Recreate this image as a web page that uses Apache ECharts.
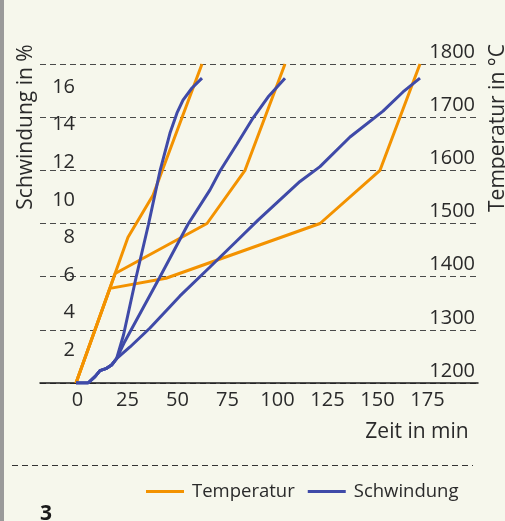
<!DOCTYPE html>
<html>
<head>
<meta charset="utf-8">
<script src="https://cdn.jsdelivr.net/npm/echarts@6/dist/echarts.min.js"></script>
<style>
html,body{margin:0;padding:0;background:#f6f7ec;}
#c{width:505px;height:521px;}
</style>
</head>
<body>
<div id="c"></div>
<script>
// ---- data (time in min) ----
const xTickLabels = [0, 25, 50, 75, 100, 125, 150, 175];
const leftTickLabels = [2, 4, 6, 8, 10, 12, 14, 16];

// Temperature profiles (°C)
const tempFastTime   = [0, 26, 38.5, 63];
const tempFastValue  = [1200, 1474, 1553, 1800];
const tempMidTime    = [0, 19.6, 65.5, 84.5, 104.5];
const tempMidValue   = [1200, 1406, 1500, 1600, 1800];
const tempSlowTime   = [0, 17, 45, 122, 152, 172];
const tempSlowValue  = [1200, 1378, 1397, 1500, 1600, 1800];

// Shrinkage curves (%)
const shrinkStartTime  = [0, 6, 9.5, 12, 15.3, 17.8, 20.3];
const shrinkStartValue = [0, 0, 0.34, 0.66, 0.78, 0.96, 1.3];
const shrinkFastTime   = [23.75, 30, 36.25, 42, 47, 50.5, 53.5, 58, 63];
const shrinkFastValue  = [2.56, 5.61, 8.46, 11.3, 13.32, 14.39, 15.08, 15.72, 16.25];
const shrinkMidTime    = [24, 41.75, 56, 67, 72, 80.5, 88.5, 96, 104.5];
const shrinkMidValue   = [2.13, 5.61, 8.46, 10.29, 11.3, 12.74, 14.12, 15.24, 16.24];
const shrinkSlowTime   = [27, 37, 52, 67, 80.35, 91.15, 112, 122, 137, 153.5, 163.5, 172];
const shrinkSlowValue  = [1.92, 2.93, 4.64, 6.18, 7.57, 8.69, 10.74, 11.53, 13.11, 14.49, 15.51, 16.25];

const ORANGE = '#f39200';
const BLUE = '#3f4aa8';
const FONT = 'Open Sans';
const TXT = '#2a2a2a';

function pairs(ts, vs) { return ts.map((t, i) => [t, vs[i]]); }
function shrink(ts, vs) { return pairs(shrinkStartTime.concat(ts), shrinkStartValue.concat(vs)); }

function tempSeries(data) {
  return { name: 'Temperatur', type: 'line', yAxisIndex: 1, data, showSymbol: false, symbol: 'none',
    lineStyle: { color: ORANGE, width: 3 }, itemStyle: { color: ORANGE }, z: 3 };
}
function shrinkSeries(data) {
  return { name: 'Schwindung', type: 'line', yAxisIndex: 0, data, showSymbol: false, symbol: 'none',
    lineStyle: { color: BLUE, width: 3 }, itemStyle: { color: BLUE }, z: 4 };
}

const chart = echarts.init(document.getElementById('c'));
chart.setOption({
  backgroundColor: '#f6f7ec',
  animation: false,
  grid: { left: 40, right: 27, top: 64, bottom: 138 },
  legend: {
    data: ['Temperatur', 'Schwindung'],
    left: 146, top: 482, padding: 0,
    icon: 'rect', itemWidth: 38, itemHeight: 3, itemGap: 13,
    textStyle: { fontFamily: FONT, fontSize: 18.5, color: TXT, padding: [0, 0, 0, 3] }
  },
  xAxis: {
    type: 'value', min: -18, max: 201,
    axisLine: { show: true, lineStyle: { color: '#1a1a1a', width: 1.5 } },
    axisTick: { show: false },
    splitLine: { show: false },
    axisLabel: { customValues: xTickLabels, fontFamily: FONT, fontSize: 20, color: TXT, margin: 7,
      padding: [0, 0, 0, 3] }
  },
  yAxis: [
    {
      type: 'value', min: 0, max: 17, position: 'left',
      axisLine: { show: false }, axisTick: { show: false }, splitLine: { show: false },
      axisLabel: { customValues: leftTickLabels, inside: true, margin: 35, align: 'right',
        verticalAlign: 'top', lineHeight: 9,
        fontFamily: FONT, fontSize: 20, color: TXT }
    },
    {
      type: 'value', min: 1200, max: 1800, interval: 100, position: 'right',
      axisLine: { show: false }, axisTick: { show: false },
      splitLine: { show: true, lineStyle: { color: '#4a4a4a', width: 1, type: [6, 4] } },
      axisLabel: { inside: true, margin: 3, verticalAlign: 'bottom', padding: [0, 0, 2, 0],
        formatter: (v) => String(v),
        fontFamily: FONT, fontSize: 20, color: TXT }
    }
  ],
  graphic: [
    { type: 'rect', left: 0, top: 0, shape: { x: 0, y: 0, width: 4, height: 521 }, style: { fill: '#9a9a9a' }, silent: true },
    { type: 'text', x: 26, y: 127, rotation: Math.PI / 2,
      style: { text: 'Schwindung in %', fontFamily: FONT, fontSize: 21, fill: TXT, align: 'center', verticalAlign: 'middle' } },
    { type: 'text', x: 498, y: 128, rotation: Math.PI / 2,
      style: { text: 'Temperatur in °C', fontFamily: FONT, fontSize: 21, fill: TXT, align: 'center', verticalAlign: 'middle' } },
    { type: 'text', x: 417, y: 432,
      style: { text: 'Zeit in min', fontFamily: FONT, fontSize: 21, fill: TXT, align: 'center', verticalAlign: 'middle' } },
    { type: 'line', shape: { x1: 12, y1: 465.5, x2: 473, y2: 465.5 },
      style: { stroke: '#333', lineWidth: 1, lineDash: [6, 4] }, silent: true },
    { type: 'text', x: 46, y: 514,
      style: { text: '3', fontFamily: FONT, fontWeight: 'bold', fontSize: 21, fill: '#1a1a1a', align: 'center', verticalAlign: 'middle' } }
  ],
  series: [
    tempSeries(pairs(tempSlowTime, tempSlowValue)),
    tempSeries(pairs(tempMidTime, tempMidValue)),
    tempSeries(pairs(tempFastTime, tempFastValue)),
    shrinkSeries(shrink(shrinkSlowTime, shrinkSlowValue)),
    shrinkSeries(shrink(shrinkMidTime, shrinkMidValue)),
    shrinkSeries(shrink(shrinkFastTime, shrinkFastValue))
  ]
});
</script>
</body>
</html>
